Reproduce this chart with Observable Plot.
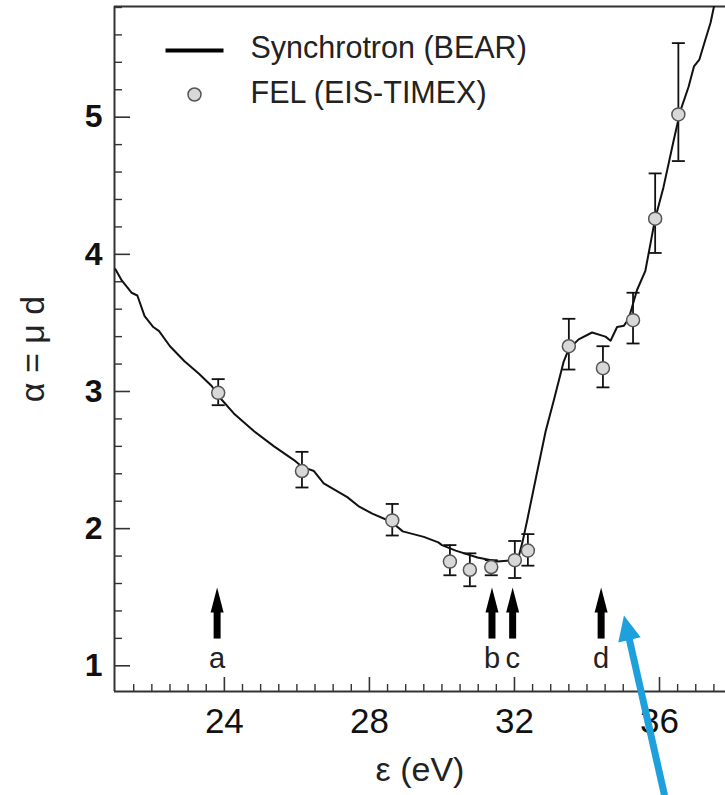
<!DOCTYPE html>
<html><head><meta charset="utf-8">
<script src="https://cdn.jsdelivr.net/npm/d3@7"></script>
<script src="https://cdn.jsdelivr.net/npm/@observablehq/plot@0.6"></script>
<style>html,body{margin:0;padding:0;background:#fff;} #chart svg{display:block;}</style>
</head><body><div id="chart"></div>
<script>
// ---- Data ----
const synchE = [21.0, 21.17, 21.44, 21.6, 21.8, 22.04, 22.2, 22.5, 22.9, 23.3, 23.65, 23.86, 24.26, 24.82, 25.37, 25.92, 26.15, 26.47, 26.74, 27.39, 27.72, 28.08, 28.6, 28.92, 29.5, 29.9, 30.0, 30.38, 30.98, 31.53, 31.94, 32.12, 32.22, 32.35, 32.6, 32.86, 33.1, 33.36, 33.5, 33.77, 34.14, 34.51, 34.65, 34.83, 35.02, 35.15, 35.38, 35.61, 35.88, 36.11, 36.39, 36.58, 36.8, 36.95, 37.1, 37.27, 37.41, 37.52];
const synchA = [3.89, 3.81, 3.72, 3.70, 3.55, 3.47, 3.44, 3.33, 3.22, 3.13, 3.04, 2.96, 2.84, 2.71, 2.60, 2.50, 2.45, 2.42, 2.33, 2.23, 2.16, 2.11, 2.05, 1.98, 1.94, 1.90, 1.88, 1.84, 1.79, 1.76, 1.77, 1.80, 1.90, 2.06, 2.38, 2.71, 2.95, 3.22, 3.31, 3.38, 3.43, 3.40, 3.37, 3.47, 3.48, 3.53, 3.74, 3.88, 4.26, 4.49, 4.83, 5.05, 5.22, 5.37, 5.42, 5.57, 5.69, 5.83];

const felE  = [23.83, 26.14, 28.63, 30.22, 30.77, 31.36, 32.01, 32.37, 33.5, 34.44, 35.27, 35.88, 36.52];
const felA  = [2.99, 2.42, 2.06, 1.76, 1.70, 1.72, 1.77, 1.84, 3.33, 3.17, 3.52, 4.26, 5.02];
const felLo = [2.90, 2.30, 1.95, 1.66, 1.58, 1.66, 1.64, 1.73, 3.16, 3.03, 3.35, 4.01, 4.68];
const felHi = [3.09, 2.56, 2.18, 1.88, 1.82, 1.77, 1.91, 1.96, 3.53, 3.33, 3.72, 4.59, 5.54];

const edgeE = [23.8, 31.38, 31.95, 34.39];
const edgeLabels = ["a", "b", "c", "d"];

const xTicks = [24, 28, 32, 36];
const yTicks = [1, 2, 3, 4, 5];
const xLabel = "ε (eV)";
const yLabel = "α = μ d";
const legendLabels = ["Synchrotron (BEAR)", "FEL (EIS-TIMEX)"];

const pointerFrom = [36.14, 0.054];  // blue annotation arrow (tail)
const pointerTo   = [35.02, 1.367];  // blue annotation arrow (tip)

// ---- Layout ----
const W = 725, H = 795, mL = 114, mR = 0, mT = 6, mB = 104;
const plotW = W - mL - mR, plotH = H - mT - mB;
const xDomain = [20.97, 37.82], yDomain = [0.8126, 5.807];
const ink = "#111";
const blue = "#1ea0dc";

const fel = felE.map((e, i) => ({e, a: felA[i], lo: felLo[i], hi: felHi[i]}));
const synch = synchE.map((e, i) => ({e, a: synchA[i]}));

const xMinor = d3.range(21.5, 37.8, 0.5).filter(v => !xTicks.includes(v));
const yMinor = d3.range(1.2, 5.81, 0.2).map(v => +v.toFixed(1)).filter(v => !yTicks.includes(v));

// custom symbols
const capSym = {draw(c) { c.moveTo(-6.5, 0); c.lineTo(6.5, 0); }};
const headSym = {draw(c) { c.moveTo(0, 0); c.lineTo(6.5, 25); c.lineTo(-6.5, 25); c.closePath(); }};
const legLineSym = {draw(c) { c.moveTo(-29, 0); c.lineTo(29, 0); }};

// blue pointer geometry via standalone scales
const xs = Plot.scale({x: {domain: xDomain, range: [mL, W - mR]}});
const ys = Plot.scale({y: {domain: yDomain, range: [H - mB, mT]}});
const p0 = [xs.apply(pointerFrom[0]), ys.apply(pointerFrom[1])];
const p1 = [xs.apply(pointerTo[0]), ys.apply(pointerTo[1])];
const len = Math.hypot(p1[0] - p0[0], p1[1] - p0[1]);
const ux = (p1[0] - p0[0]) / len, uy = (p1[1] - p0[1]) / len;
const nx = -uy, ny = ux;
const HL = 25, HW = 11.5;
const blueHead = {draw(c) {
  c.moveTo(0, 0);
  c.lineTo(-HL * ux + HW * nx, -HL * uy + HW * ny);
  c.lineTo(-HL * ux - HW * nx, -HL * uy - HW * ny);
  c.closePath();
}};
const shaftEnd = [xs.invert(p1[0] - (HL - 3) * ux), ys.invert(p1[1] - (HL - 3) * uy)];

const chart = Plot.plot({
  width: W, height: H,
  marginLeft: mL, marginRight: mR, marginTop: mT, marginBottom: mB,
  style: {fontFamily: "'Liberation Sans', Arial, sans-serif", color: ink, background: "#fff"},
  x: {domain: xDomain, axis: null},
  y: {domain: yDomain, axis: null},
  marks: [
    // frame
    Plot.ruleX([xDomain[0]], {stroke: "#333", strokeWidth: 2}),
    Plot.ruleY([yDomain[0], yDomain[1]], {stroke: "#333", strokeWidth: 2}),
    // inward ticks
    Plot.tickY(yTicks, {y: d => d, insetRight: plotW - 16, stroke: "#333", strokeWidth: 1.6}),
    Plot.tickY(yMinor, {y: d => d, insetRight: plotW - 8, stroke: "#333", strokeWidth: 1.4}),
    Plot.tickX(xTicks, {x: d => d, insetTop: plotH - 14, stroke: "#333", strokeWidth: 1.6}),
    Plot.tickX(xMinor, {x: d => d, insetTop: plotH - 7, stroke: "#333", strokeWidth: 1.4}),
    // tick labels
    Plot.axisY(yTicks, {tickSize: 0, tickPadding: 12, fontSize: 32, fontWeight: "bold", tickFormat: d => d, label: null}),
    Plot.axisX(xTicks, {tickSize: 0, tickPadding: 17, fontSize: 35, tickFormat: d => d, label: null}),
    // axis titles
    Plot.text([xLabel], {frameAnchor: "bottom", dy: 79, fontSize: 34, lineAnchor: "middle", textAnchor: "middle", fill: "#222"}),
    Plot.text([yLabel], {frameAnchor: "left", dx: -81, rotate: -90, fontSize: 34, lineAnchor: "middle", textAnchor: "middle", fill: "#222"}),
    // synchrotron curve
    Plot.line(synch, {x: "e", y: "a", stroke: ink, strokeWidth: 2, clip: true, curve: "linear"}),
    // FEL error bars
    Plot.ruleX(fel, {x: "e", y1: "lo", y2: "hi", stroke: ink, strokeWidth: 1.8}),
    Plot.dot(fel, {x: "e", y: "hi", symbol: capSym, fill: "none", stroke: ink, strokeWidth: 1.8, r: 5}),
    Plot.dot(fel, {x: "e", y: "lo", symbol: capSym, fill: "none", stroke: ink, strokeWidth: 1.8, r: 5}),
    // FEL points
    Plot.dot(fel, {x: "e", y: "a", r: 6.5, fill: "#d8d8d8", stroke: "#555", strokeWidth: 1.5}),
    // edge arrows a-d
    Plot.ruleX(edgeE, {x: d => d, y1: 1.195, y2: 1.40, stroke: "#000", strokeWidth: 7}),
    Plot.dot(edgeE, {x: d => d, y: 1.57, symbol: headSym, fill: "#000", stroke: "none", r: 5}),
    Plot.text(edgeE, {x: d => d, y: 1.048, text: (d, i) => edgeLabels[i], fontSize: 29, fill: "#222", lineAnchor: "middle"}),
    // legend
    Plot.dot([0], {frameAnchor: "top-left", dx: 80, dy: 44, symbol: legLineSym, fill: "none", stroke: "#000", strokeWidth: 4, r: 5}),
    Plot.dot([0], {frameAnchor: "top-left", dx: 80, dy: 88, r: 6.5, fill: "#d8d8d8", stroke: "#555", strokeWidth: 1.5}),
    Plot.text([legendLabels[0]], {frameAnchor: "top-left", dx: 136, dy: 41.7, text: d => d, fontSize: 30.5, textAnchor: "start", lineAnchor: "middle", fill: "#222"}),
    Plot.text([legendLabels[1]], {frameAnchor: "top-left", dx: 136, dy: 86.4, text: d => d, fontSize: 30.5, textAnchor: "start", lineAnchor: "middle", fill: "#222"}),
    // blue annotation arrow
    Plot.link([0], {x1: pointerFrom[0], y1: pointerFrom[1], x2: shaftEnd[0], y2: shaftEnd[1], stroke: blue, strokeWidth: 7}),
    Plot.dot([0], {x: pointerTo[0], y: pointerTo[1], symbol: blueHead, fill: blue, stroke: "none", r: 5})
  ]
});
document.getElementById("chart").appendChild(chart);
</script>
</body></html>
